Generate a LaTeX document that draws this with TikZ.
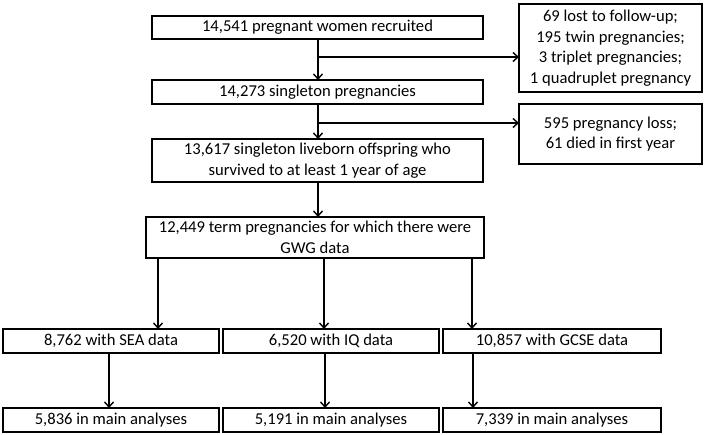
\documentclass[tikz,border=0pt]{standalone}
\usepackage{fontspec}
\setmainfont{Carlito}
\usetikzlibrary{arrows.meta}
\begin{document}
\begin{tikzpicture}[x=1pt, y=-1pt,
  every node/.style={font=\fontsize{16.6}{20.5}\selectfont},
  box/.style={draw, line width=1.5pt, align=center, inner sep=0pt, outer sep=0pt, anchor=north west},
  arr/.style={-{Straight Barb[length=5pt,width=9pt]}, line width=1.4pt}]
  \useasboundingbox (0,0) rectangle (707,435);

  \node[box, minimum width=331pt, minimum height=23pt] (rec) at (152,16) {14,541 pregnant women recruited};
  \node[box, minimum width=331pt, minimum height=24pt] (sing) at (152,80) {14,273 singleton pregnancies};
  \node[box, minimum width=331pt, minimum height=43pt] (live) at (152,139) {13,617 singleton liveborn offspring who\\survived to at least 1 year of age};
  \node[box, minimum width=338pt, minimum height=41pt] (gwg) at (146,217) {12,449 term pregnancies for which there were\\GWG data};

  \node[box, minimum width=183pt, minimum height=88pt] (lost) at (519,4) {69 lost to follow-up;\\195 twin pregnancies;\\3 triplet pregnancies;\\1 quadruplet pregnancy};
  \node[box, minimum width=183pt, minimum height=60pt] (loss) at (519,104) {595 pregnancy loss;\\61 died in first year};

  \node[box, minimum width=216pt, minimum height=24pt] (sea) at (3,329) {8,762 with SEA data};
  \node[box, minimum width=216pt, minimum height=24pt] (iq) at (223,329) {6,520 with IQ data};
  \node[box, minimum width=218pt, minimum height=24pt] (gcse) at (443,329) {10,857 with GCSE data};
  \node[box, minimum width=216pt, minimum height=24pt] (msea) at (3,408) {5,836 in main analyses};
  \node[box, minimum width=216pt, minimum height=24pt] (miq) at (223,408) {5,191 in main analyses};
  \node[box, minimum width=218pt, minimum height=24pt] (mgcse) at (443,408) {7,339 in main analyses};

  \coordinate (sp) at (318,0);
  \coordinate (j1) at (318,57);
  \coordinate (j2) at (318,123);
  \coordinate (ca) at (158,0);
  \coordinate (cb) at (324,0);
  \coordinate (cc) at (472,0);
  \coordinate (da) at (109,0);
  \coordinate (db) at (325,0);
  \coordinate (dc) at (473,0);

  \draw[arr] (rec.south -| sp) -- (sing.north -| sp);
  \draw[arr] (j1) -- (j1 -| lost.west);
  \draw[arr] (sing.south -| sp) -- (live.north -| sp);
  \draw[arr] (j2) -- (j2 -| loss.west);
  \draw[arr] (live.south -| sp) -- (gwg.north -| sp);

  \draw[arr] (gwg.south -| ca) -- (sea.north -| ca);
  \draw[arr] (gwg.south -| cb) -- (iq.north -| cb);
  \draw[arr] (gwg.south -| cc) -- (gcse.north -| cc);
  \draw[arr] (sea.south -| da) -- (msea.north -| da);
  \draw[arr] (iq.south -| db) -- (miq.north -| db);
  \draw[arr] (gcse.south -| dc) -- (mgcse.north -| dc);
\end{tikzpicture}
\end{document}
